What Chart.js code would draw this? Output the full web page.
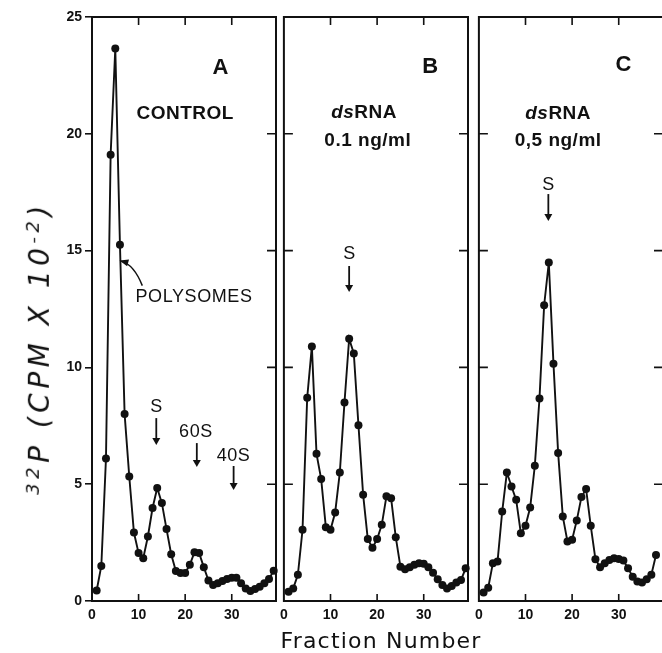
<!DOCTYPE html>
<html>
<head>
<meta charset="utf-8">
<script src="https://cdn.jsdelivr.net/npm/chart.js@4.4.1/dist/chart.umd.min.js"></script>
<style>
html, body { margin: 0; padding: 0; background: #fff; overflow: hidden; }
#page { position: relative; width: 662px; height: 653px; overflow: hidden; }
canvas { position: absolute; top: 0; }
#ytitle { position: absolute; left: 39px; top: 348px; transform: translate(-50%, -50%) rotate(-90deg);
  font: italic 28px "DejaVu Sans"; letter-spacing: 4.5px; white-space: nowrap; color: #111; }
#ytitle sup { font-size: 18px; }
#xtitle { position: absolute; left: 381px; top: 640px; transform: translate(-50%, -50%);
  font: 22px "DejaVu Sans"; letter-spacing: 1.2px; white-space: nowrap; color: #111; }
</style>
</head>
<body>
<div id="page">
  <canvas id="panelA" style="left:0px"></canvas>
  <canvas id="panelB" style="left:274px"></canvas>
  <canvas id="panelC" style="left:469px"></canvas>
  <div id="ytitle"><sup>32</sup>P (CPM X 10<sup>-2</sup>)</div>
  <div id="xtitle">Fraction Number</div>
</div>
<script>
// fraction numbers and 32P counts (CPM x 10^-2)
var fractionsA = [1,2,3,4,5,6,7,8,9,10,11,12,13,14,15,16,17,18,19,20,21,22,23,24,25,26,27,28,29,30,31,32,33,34,35,36,37,38,39];
var controlA = [0.45,1.5,6.1,19.1,23.65,15.25,8.0,5.33,2.93,2.05,1.83,2.76,3.98,4.84,4.19,3.08,2.0,1.28,1.2,1.2,
  1.55,2.09,2.05,1.45,0.88,0.69,0.76,0.86,0.94,1.0,1.0,0.76,0.54,0.43,0.51,0.61,0.76,0.94,1.3];

var fractionsB = [1,2,3,4,5,6,7,8,9,10,11,12,13,14,15,16,17,18,19,20,21,22,23,24,25,26,27,28,29,30,31,32,33,34,35,36,37,38,39];
var dsRna01 = [0.4,0.54,1.12,3.05,8.7,10.9,6.3,5.22,3.16,3.05,3.79,5.5,8.5,11.23,10.6,7.52,4.55,2.65,2.28,2.65,
  3.26,4.48,4.4,2.73,1.47,1.36,1.45,1.55,1.62,1.59,1.45,1.21,0.93,0.69,0.54,0.64,0.79,0.9,1.4];

var fractionsC = [1,2,3,4,5,6,7,8,9,10,11,12,13,14,15,16,17,18,19,20,21,22,23,24,25,26,27,28,29,30,31,32,33,34,35,36,37,38];
var dsRna05 = [0.36,0.57,1.62,1.69,3.83,5.5,4.9,4.33,2.9,3.22,4.0,5.79,8.67,12.66,14.49,10.16,6.34,3.62,2.55,2.62,
  3.45,4.45,4.79,3.22,1.79,1.45,1.62,1.76,1.83,1.8,1.73,1.4,1.04,0.83,0.79,0.93,1.12,1.97];

var xTicks = [0, 10, 20, 30];
var yTicks = [0, 5, 10, 15, 20, 25];

var ink = '#111';
var sans = '"Liberation Sans", Arial, sans-serif';

function framePlugin(leftTicks) {
  return {
    id: 'frame',
    afterDraw: function (chart) {
      var ctx = chart.ctx, a = chart.chartArea, x = chart.scales.x, y = chart.scales.y;
      ctx.save();
      ctx.strokeStyle = ink;
      ctx.lineWidth = 2;
      ctx.strokeRect(a.left, a.top, a.right - a.left, a.bottom - a.top);
      ctx.lineWidth = 1.6;
      ctx.beginPath();
      xTicks.forEach(function (v) {
        if (v === 0) return;
        var px = x.getPixelForValue(v);
        ctx.moveTo(px, a.top); ctx.lineTo(px, a.top + 8);
        ctx.moveTo(px, a.bottom); ctx.lineTo(px, a.bottom - 7);
      });
      yTicks.forEach(function (v) {
        if (v === 0 || v === 25) return;
        var py = y.getPixelForValue(v);
        ctx.moveTo(a.right, py); ctx.lineTo(a.right - 9, py);
        if (leftTicks) { ctx.moveTo(a.left, py); ctx.lineTo(a.left + 9, py); }
      });
      ctx.stroke();
      ctx.restore();
    }
  };
}

function notesPlugin(notes) {
  return {
    id: 'notes',
    afterDraw: function (chart) {
      var ctx = chart.ctx, x = chart.scales.x, y = chart.scales.y;
      ctx.save();
      ctx.fillStyle = ink;
      ctx.strokeStyle = ink;
      notes.forEach(function (n) {
        if (n.text) {
          ctx.textBaseline = 'middle';
          ctx.textAlign = 'left';
          ctx.letterSpacing = (n.spacing || 0) + 'px';
          var total = 0;
          n.text.forEach(function (r) { ctx.font = r[1]; total += ctx.measureText(r[0]).width; });
          var px = x.getPixelForValue(n.x) - total / 2, py = y.getPixelForValue(n.y);
          n.text.forEach(function (r) { ctx.font = r[1]; ctx.fillText(r[0], px, py); px += ctx.measureText(r[0]).width; });
        } else if (n.arrow) {
          var ax = x.getPixelForValue(n.x), y1 = y.getPixelForValue(n.from), y2 = y.getPixelForValue(n.to);
          ctx.lineWidth = 1.8;
          ctx.beginPath(); ctx.moveTo(ax, y1); ctx.lineTo(ax, y2 - 5); ctx.stroke();
          ctx.beginPath(); ctx.moveTo(ax - 4, y2 - 7); ctx.lineTo(ax + 4, y2 - 7); ctx.lineTo(ax, y2); ctx.closePath(); ctx.fill();
        } else if (n.curve) {
          var x1 = x.getPixelForValue(n.curve[0]), yy1 = y.getPixelForValue(n.curve[1]);
          var cx = x.getPixelForValue(n.curve[2]), cy = y.getPixelForValue(n.curve[3]);
          var x2 = x.getPixelForValue(n.curve[4]), yy2 = y.getPixelForValue(n.curve[5]);
          ctx.lineWidth = 1.5;
          ctx.beginPath(); ctx.moveTo(x1, yy1); ctx.quadraticCurveTo(cx, cy, x2, yy2); ctx.stroke();
          var ang = Math.atan2(yy2 - cy, x2 - cx);
          ctx.beginPath();
          ctx.moveTo(x2 + 2 * Math.cos(ang), yy2 + 2 * Math.sin(ang));
          ctx.lineTo(x2 - 7 * Math.cos(ang) + 3.5 * Math.sin(ang), yy2 - 7 * Math.sin(ang) - 3.5 * Math.cos(ang));
          ctx.lineTo(x2 - 7 * Math.cos(ang) - 3.5 * Math.sin(ang), yy2 - 7 * Math.sin(ang) + 3.5 * Math.cos(ang));
          ctx.closePath(); ctx.fill();
        }
      });
      ctx.restore();
    }
  };
}

function makePanel(id, width, padLeft, padRight, fractions, values, showY, notes) {
  var canvas = document.getElementById(id);
  canvas.width = width;
  canvas.height = 653;
  return new Chart(canvas.getContext('2d'), {
    type: 'line',
    data: {
      datasets: [{
        data: fractions.map(function (f, i) { return { x: f, y: values[i] }; }),
        borderColor: ink,
        borderWidth: 1.9,
        pointRadius: 4,
        pointBackgroundColor: ink,
        pointBorderWidth: 0,
        tension: 0,
        clip: 6
      }]
    },
    options: {
      responsive: false,
      animation: false,
      events: [],
      layout: { padding: { top: 17, left: padLeft, right: padRight, bottom: 0 } },
      plugins: { legend: { display: false }, tooltip: { enabled: false } },
      scales: {
        x: {
          type: 'linear', min: 0, max: 39.5,
          afterBuildTicks: function (s) { s.ticks = xTicks.map(function (v) { return { value: v }; }); },
          afterFit: function (s) { s.height = 52; },
          grid: { display: false, drawTicks: false },
          border: { display: false },
          ticks: { color: ink, padding: 6, maxRotation: 0, font: { family: sans, size: 14, weight: 'bold' } }
        },
        y: {
          type: 'linear', min: 0, max: 25, display: showY,
          afterBuildTicks: function (s) { s.ticks = yTicks.map(function (v) { return { value: v }; }); },
          afterFit: function (s) { s.width = showY ? 92 : 0; },
          grid: { drawOnChartArea: false, drawTicks: true, tickLength: 7, color: ink, lineWidth: 1.6 },
          border: { display: false },
          ticks: { color: ink, padding: 3, font: { family: sans, size: 14, weight: 'bold' } }
        }
      }
    },
    plugins: [framePlugin(!showY), notesPlugin(notes)]
  });
}

var big = 'bold 22px ' + sans;
var lab = 'bold 19px ' + sans;
var labIt = 'italic bold 19px ' + sans;
var small = '18px ' + sans;

makePanel('panelA', 280, 0, 2, fractionsA, controlA, true, [
  { text: [['A', big]], x: 27.6, y: 22.8 },
  { text: [['CONTROL', lab]], x: 20.0, y: 20.85, spacing: 0.5 },
  { text: [['POLYSOMES', small]], x: 21.9, y: 13.0, spacing: 0.6 },
  { curve: [10.8, 13.5, 9.0, 14.4, 6.3, 14.55] },
  { text: [['S', small]], x: 13.8, y: 8.3 },
  { arrow: true, x: 13.8, from: 7.83, to: 6.68 },
  { text: [['60S', small]], x: 22.3, y: 7.23, spacing: 0.5 },
  { arrow: true, x: 22.5, from: 6.76, to: 5.74 },
  { text: [['40S', small]], x: 30.4, y: 6.2, spacing: 0.5 },
  { arrow: true, x: 30.4, from: 5.78, to: 4.75 }
]);

makePanel('panelB', 202, 8, 8, fractionsB, dsRna01, false, [
  { text: [['B', big]], x: 31.4, y: 22.86 },
  { text: [['ds', labIt], ['RNA', lab]], x: 17.2, y: 20.9, spacing: 0.5 },
  { text: [['0.1 ng/ml', lab]], x: 18.0, y: 19.7, spacing: 0.5 },
  { text: [['S', small]], x: 14.0, y: 14.85 },
  { arrow: true, x: 14.0, from: 14.34, to: 13.23 }
]);

makePanel('panelC', 202, 8, 8, fractionsC, dsRna05, false, [
  { text: [['C', big]], x: 31.0, y: 22.95 },
  { text: [['ds', labIt], ['RNA', lab]], x: 17.0, y: 20.85, spacing: 0.5 },
  { text: [['0,5 ng/ml', lab]], x: 17.0, y: 19.7, spacing: 0.5 },
  { text: [['S', small]], x: 14.9, y: 17.8 },
  { arrow: true, x: 14.9, from: 17.42, to: 16.27 }
]);
</script>
</body>
</html>
